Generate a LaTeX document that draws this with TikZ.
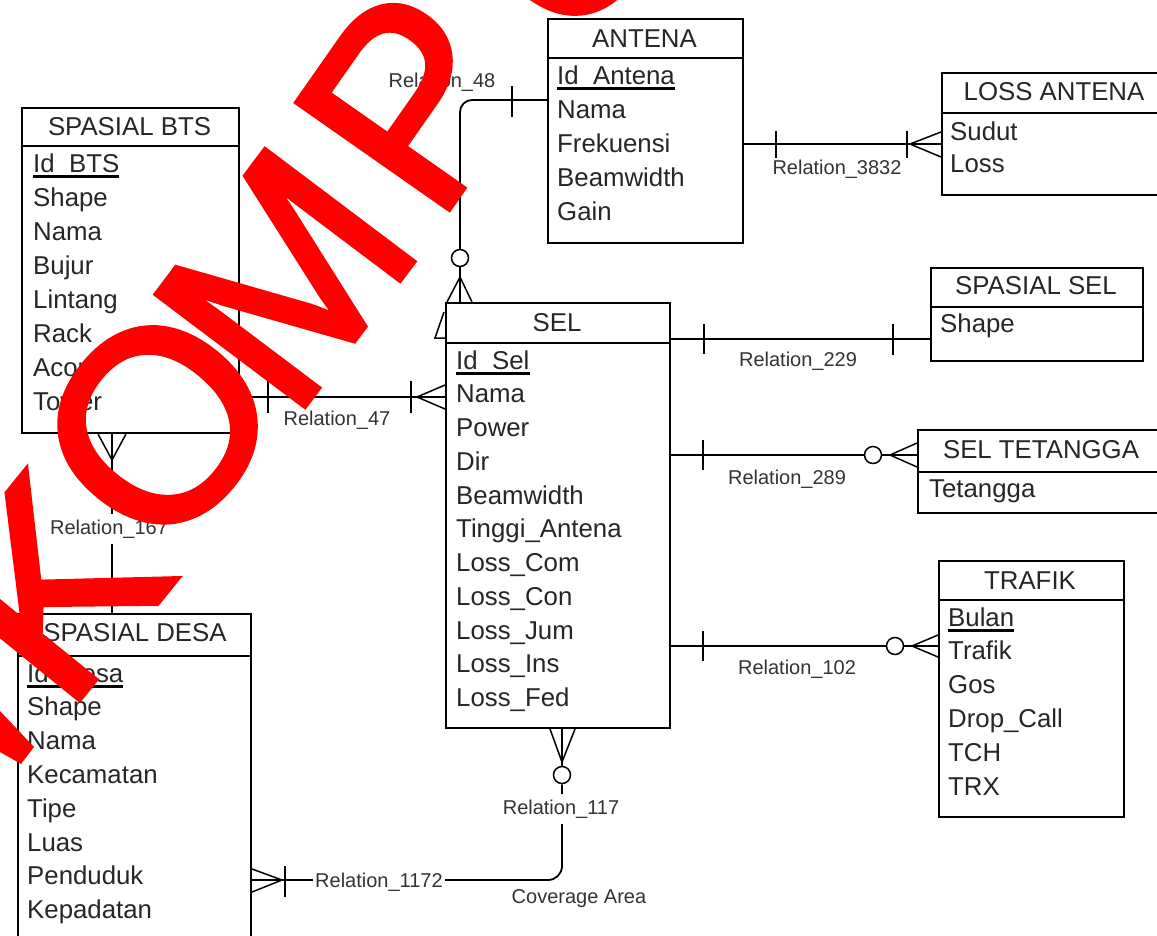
\documentclass[tikz,border=0pt]{standalone}
\usepackage{fontspec}
\setmainfont{Liberation Sans}
\newfontfamily\wmfamily{Liberation Sans}[FakeBold=2]
\newcommand\entfont{\fontsize{25.8}{30}\selectfont}
\newcommand\lblfont{\fontsize{20}{24}\selectfont}
\newcommand\wmfont{\wmfamily\fontsize{270}{270}\selectfont}
\begin{document}
\begin{tikzpicture}[x=1pt,y=-1pt,
  ent/.style={draw, line width=2pt, inner sep=0pt, anchor=north west},
  hdr/.style={line width=2pt},
  ttl/.style={anchor=base, font=\entfont, inner sep=0pt, text=black!85},
  att/.style={anchor=base west, font=\entfont, inner sep=0pt, text=black!85},
  lbl/.style={anchor=base, font=\lblfont, inner sep=0pt, text=black!80},
  lblw/.style={anchor=base, font=\lblfont, fill=white, inner xsep=2pt, inner ysep=6pt, text=black!80},
  conn/.style={line width=1.8pt},
  tick/.style={line width=1.8pt},
  crow/.style={line width=1.5pt},
  opt/.style={circle, draw, line width=1.5pt, fill=white, minimum size=17pt, inner sep=0pt},
  ul/.style={line width=3pt},
  wm/.style={anchor=center, inner sep=0pt, text=red, font=\wmfont}]
\fill[white] (0,0) rectangle (1157,935);
\useasboundingbox (0,0) rectangle (1157,935);
\clip (0,0) rectangle (1157,935);

% ---------- SPASIAL BTS
\node[ent, minimum width=217pt, minimum height=325pt] (bts) at (21,107) {};
\draw[hdr] (bts.west |- 0,146) -- (bts.east |- 0,146);
\node[ttl] (btsT) at (129.5,135) {SPASIAL BTS};
\node[att] (idbts) at (33,172) {Id\_BTS};
\draw[ul] ([yshift=-4.5pt]idbts.base west) -- ([yshift=-4.5pt]idbts.base east);
\foreach \t [count=\i] in {Shape,Nama,Bujur,Lintang,Rack,Acor,Tower}
  \node[att] (bts\i) at (33,{172+34*\i}) {\t};

% ---------- ANTENA
\node[ent, minimum width=195pt, minimum height=224pt] (ant) at (547,18) {};
\draw[hdr] (ant.west |- 0,58) -- (ant.east |- 0,58);
\node[ttl] (antT) at (644.5,47) {ANTENA};
\node[att] (idant) at (557,84) {Id\_Antena};
\draw[ul] ([yshift=-4.5pt]idant.base west) -- ([yshift=-4.5pt]idant.base east);
\foreach \t [count=\i] in {Nama,Frekuensi,Beamwidth,Gain}
  \node[att] (ant\i) at (557,{84+34*\i}) {\t};

% ---------- LOSS ANTENA
\node[ent, minimum width=226pt, minimum height=122pt] (loss) at (941,72) {};
\draw[hdr] (loss.west |- 0,113) -- (loss.east |- 0,113);
\node[ttl] (lossT) at (1054,100) {LOSS ANTENA};
\node[att] (loss1) at (950,140) {Sudut};
\node[att] (loss2) at (950,172) {Loss};

% ---------- SPASIAL SEL
\node[ent, minimum width=212pt, minimum height=93pt] (ssel) at (930,267) {};
\draw[hdr] (ssel.west |- 0,307) -- (ssel.east |- 0,307);
\node[ttl] (sselT) at (1036,294) {SPASIAL SEL};
\node[att] (ssel1) at (940,332) {Shape};

% ---------- SEL
\node[ent, minimum width=224pt, minimum height=425pt] (sel) at (445,302) {};
\draw[hdr] (sel.west |- 0,343) -- (sel.east |- 0,343);
\node[ttl] (selT) at (557,331) {SEL};
\node[att] (idsel) at (456,369) {Id\_Sel};
\draw[ul] ([yshift=-4.5pt]idsel.base west) -- ([yshift=-4.5pt]idsel.base east);
\foreach \t [count=\i] in {Nama,Power,Dir,Beamwidth,Tinggi\_Antena,Loss\_Com,Loss\_Con,Loss\_Jum,Loss\_Ins,Loss\_Fed}
  \node[att] (sel\i) at (456,{369+33.75*\i}) {\t};

% ---------- SEL TETANGGA
\node[ent, minimum width=248pt, minimum height=83pt] (tet) at (917,429) {};
\draw[hdr] (tet.west |- 0,472) -- (tet.east |- 0,472);
\node[ttl] (tetT) at (1041,458) {SEL TETANGGA};
\node[att] (tet1) at (929,497) {Tetangga};

% ---------- TRAFIK
\node[ent, minimum width=185pt, minimum height=256pt] (traf) at (938,560) {};
\draw[hdr] (traf.west |- 0,600) -- (traf.east |- 0,600);
\node[ttl] (trafT) at (1030,589) {TRAFIK};
\node[att] (bulan) at (948,626) {Bulan};
\draw[ul] ([yshift=-4.5pt]bulan.base west) -- ([yshift=-4.5pt]bulan.base east);
\foreach \t [count=\i] in {Trafik,Gos,Drop\_Call,TCH,TRX}
  \node[att] (traf\i) at (948,{626+33.8*\i}) {\t};

% ---------- SPASIAL DESA
\node[ent, minimum width=233pt, minimum height=340pt] (desa) at (17,613) {};
\draw[hdr] (desa.west |- 0,656) -- (desa.east |- 0,656);
\node[ttl] (desaT) at (135,641) {SPASIAL DESA};
\node[att] (iddesa) at (27,682) {Id\_Desa};
\draw[ul] ([yshift=-4.5pt]iddesa.base west) -- ([yshift=-4.5pt]iddesa.base east);
\foreach \t [count=\i] in {Shape,Nama,Kecamatan,Tipe,Luas,Penduduk,Kepadatan}
  \node[att] (desa\i) at (27,{682+33.8*\i}) {\t};

% ---------- Relation_47
\draw[conn] (bts.east |- 0,397) -- (sel.west |- 0,397);
\draw[tick] (268,381) -- (268,413);
\draw[tick] (411,381) -- (411,413);
\draw[crow] (sel.west |- 0,385) -- (417,397) -- (sel.west |- 0,409);
\node[lbl] (r47) at (337,425) {Relation\_47};

% ---------- Relation_48
\node[opt] (c48) at (460,258) {};
\draw[conn, rounded corners=12pt] (ant.west |- 0,100) -- (460,100) -- (c48.north);
\draw[tick] (512,86) -- (512,117);
\coordinate (a48) at (460,277);
\draw[crow] (c48.south) -- (a48);
\draw[crow] (447,302) -- (a48) -- (472,302);
\draw[crow] (a48) -- (460,302);
\draw[crow] (444,312) -- (435,338) -- (sel.west |- 0,338);
\node[lbl] (r48) at (442,87) {Relation\_48};

% ---------- Relation_3832
\draw[conn] (ant.east |- 0,144) -- (loss.west |- 0,144);
\draw[tick] (776,131) -- (776,158);
\draw[tick] (907,131) -- (907,158);
\draw[crow] (loss.west |- 0,132) -- (910,144) -- (loss.west |- 0,157);
\node[lbl] (r3832) at (837,174) {Relation\_3832};

% ---------- Relation_229
\draw[conn] (sel.east |- 0,339) -- (ssel.west |- 0,339);
\draw[tick] (704,324) -- (704,354);
\draw[tick] (893,324) -- (893,355);
\node[lbl] (r229) at (798,366) {Relation\_229};

% ---------- Relation_289
\node[opt] (c289) at (873,455) {};
\draw[conn] (sel.east |- 0,455) -- (c289.west);
\coordinate (a289) at (890,455);
\draw[crow] (c289.east) -- (tet.west |- 0,455);
\draw[crow] (tet.west |- 0,443) -- (a289) -- (tet.west |- 0,467);
\draw[tick] (703,440) -- (703,470);
\node[lbl] (r289) at (787,484) {Relation\_289};

% ---------- Relation_102
\node[opt] (c102) at (895,646) {};
\draw[conn] (sel.east |- 0,646) -- (c102.west);
\coordinate (a102) at (912,646);
\draw[crow] (c102.east) -- (traf.west |- 0,646);
\draw[crow] (traf.west |- 0,635) -- (a102) -- (traf.west |- 0,657);
\draw[tick] (703,631) -- (703,661);
\node[lbl] (r102) at (797,674) {Relation\_102};

% ---------- Relation_167
\draw[conn] (bts.south -| 112,0) -- (desa.north -| 112,0);
\coordinate (a167) at (112,460);
\draw[crow] (bts.south -| 98,0) -- (a167) -- (bts.south -| 126,0);
\node[lblw] (r167) at (109,534) {Relation\_167};

% ---------- Relation_117 / Relation_1172
\node[opt] (c117) at (562,775) {};
\coordinate (a117) at (562,762);
\draw[crow] (sel.south -| 550,0) -- (a117) -- (sel.south -| 575,0);
\draw[crow] (sel.south -| 562,0) -- (a117) -- (c117.north);
\draw[conn, rounded corners=14pt] (c117.south) -- (562,880) -- (desa.east |- 0,880);
\draw[tick] (285,866) -- (285,897);
\draw[crow] (desa.east |- 0,869) -- (282,880) -- (desa.east |- 0,892);
\node[lblw] (r117) at (561,814) {Relation\_117};
\node[lblw, inner ysep=1pt] (r1172) at (379,887) {Relation\_1172};
\node[lbl] (cov) at (579,903) {Coverage Area};

% ---------- watermark (letters on a gentle arc)
\fill[red] (0,711) -- (34,747) -- (21,764) -- (0,752) -- cycle;
\node[wm, rotate=51] (wmK) at (50,588) {K};
\node[wm, rotate=51] (wmO) at (158,425) {O};
\node[wm, rotate=53] (wmM) at (285,278) {M};
\node[wm, rotate=55] (wmP) at (412,100) {P};
\node[wm, rotate=57] (wmU) at (557,-77) {U};
\end{tikzpicture}
\end{document}
